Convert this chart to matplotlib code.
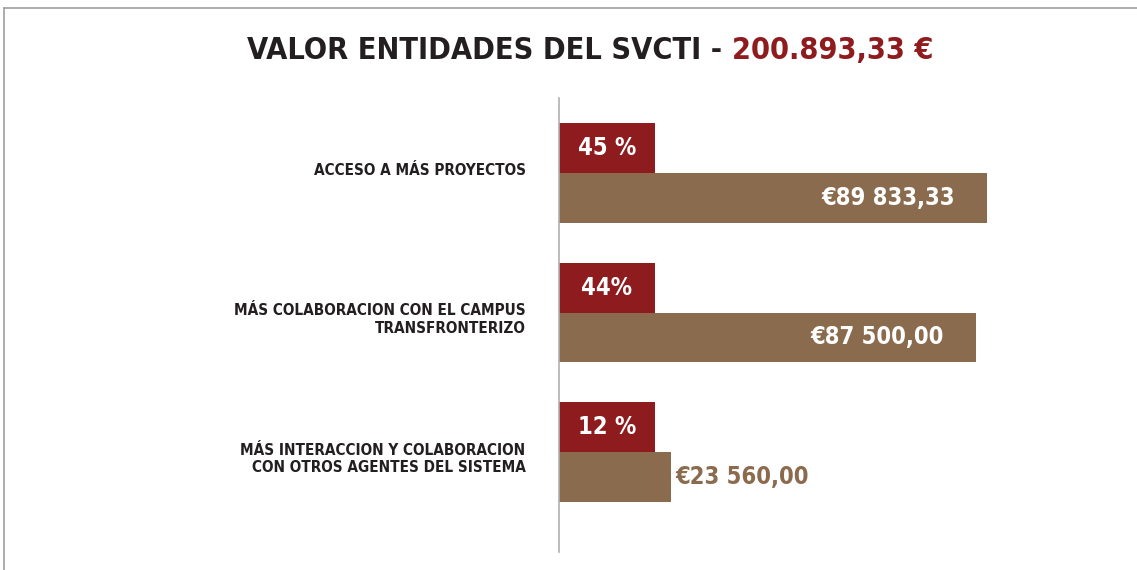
import matplotlib
matplotlib.use("Agg")
import matplotlib.pyplot as plt
from matplotlib.lines import Line2D

categories = [
    "ACCESO A MÁS PROYECTOS",
    "MÁS COLABORACION CON EL CAMPUS\nTRANSFRONTERIZO",
    "MÁS INTERACCION Y COLABORACION\nCON OTROS AGENTES DEL SISTEMA",
]
pct_labels = ["45 %", "44%", "12 %"]
values = [89833.33, 87500.00, 23560.00]
value_labels = ["€89 833,33", "€87 500,00", "€23 560,00"]
title_main = "VALOR ENTIDADES DEL SVCTI - "
title_total = "200.893,33 €"

RED = "#8E1B1E"
BROWN = "#8A6B4D"
DARK = "#231F20"
RED_BAR = 20150  # the percent boxes are all drawn the same length
FONT = dict(family="DejaVu Sans", fontstretch="condensed", fontweight="bold")

fig = plt.figure(figsize=(11.37, 5.70), dpi=100)
ax = fig.add_axes([0.4916, 0.0316, 0.419, 0.7966])

ys = list(range(len(categories)))
h = 0.357
ax.barh([y - h / 2 for y in ys], [RED_BAR] * len(ys), height=h, color=RED)
ax.barh([y + h / 2 for y in ys], values, height=h, color=BROWN)

for y, p in zip(ys, pct_labels):
    ax.text(RED_BAR / 2, y - h / 2, p, ha="center", va="center", color="white",
            fontsize=17, **FONT)

for y, v, lab in zip(ys, values, value_labels):
    if v > 50000:
        ax.annotate(lab, (v, y + h / 2), xytext=(-23, 0), textcoords="offset points",
                    ha="right", va="center", color="white", fontsize=17, **FONT)
    else:
        ax.annotate(lab, (v, y + h / 2), xytext=(3, 0), textcoords="offset points",
                    ha="left", va="center", color=BROWN, fontsize=17, **FONT)

for y, c in zip(ys, categories):
    dy = -5 if "\n" in c else 2
    ax.annotate(c, (0, y), xytext=(-24, dy), textcoords="offset points",
                ha="right", va="center", color=DARK, fontsize=11,
                multialignment="right", linespacing=1.2, **FONT)

ax.set_xlim(0, 100000)
ax.set_ylim(2.714, -0.536)
for s in ["top", "right", "bottom"]:
    ax.spines[s].set_visible(False)
ax.spines["left"].set_color("#b0b0b0")
ax.spines["left"].set_linewidth(1.2)
ax.set_xticks([])
ax.set_yticks([])

# title in two colours
t1 = fig.text(0.5, 0.912, title_main, ha="left", va="center", color=DARK,
              fontsize=22, **FONT)
fig.canvas.draw()
r = fig.canvas.get_renderer()
w1 = t1.get_window_extent(r).width
t2 = fig.text(0.5, 0.912, title_total, ha="left", va="center", color=RED,
              fontsize=22, **FONT)
w2 = t2.get_window_extent(r).width
x0 = 590 - (w1 + w2) / 2
t1.set_x(x0 / 1137)
t2.set_x((x0 + w1) / 1137)

# frame border at the edge of the original screenshot
fig.add_artist(Line2D([0.0035, 1], [0.986, 0.986], color="#a0a0a0", lw=1.2))
fig.add_artist(Line2D([0.0035, 0.0035], [0, 0.986], color="#a0a0a0", lw=1.2))

fig.savefig("out.png", dpi=100)
